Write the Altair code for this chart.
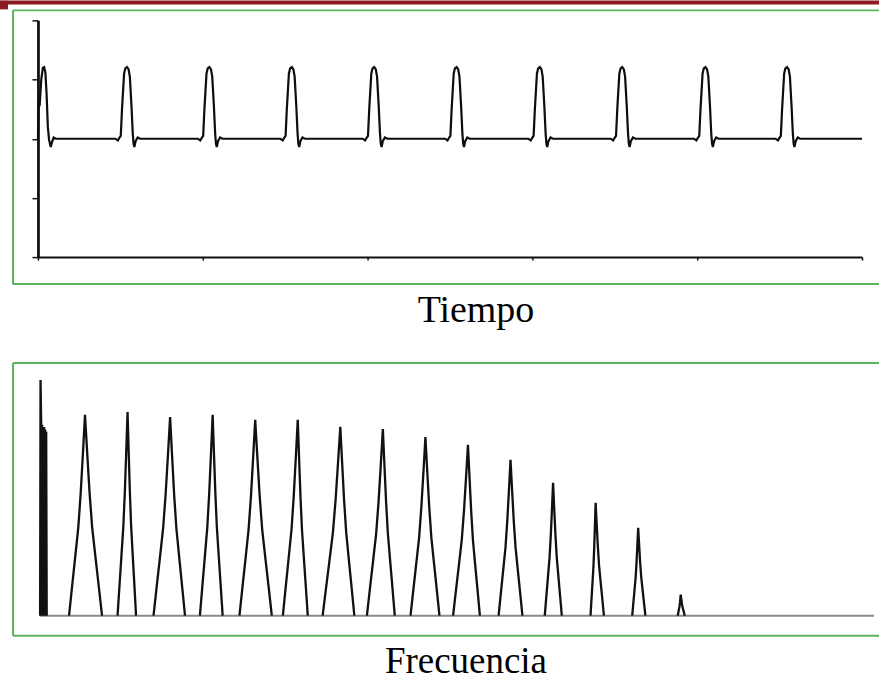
import altair as alt
import pandas as pd

# ---------------- Top panel: time signal (Tiempo) ----------------
time_ticks = [0, 2, 4, 6, 8, 10]
amp_ticks = [-2, -1, 0, 1, 2]

# first pulse (starts right on the vertical axis)
first_t = [0.0, 0.008, 0.02, 0.04, 0.06, 0.075, 0.09, 0.105, 0.12, 0.135, 0.155, 0.17, 0.19, 0.22]
first_v = [0.0, 0.65, 0.55, 1.0, 1.2, 1.21, 1.12, 0.75, 0.2, -0.02, -0.14, -0.06, 0.02, 0.0]

# remaining pulses: centres and the pulse shape
pulse_centers = [1.08, 2.08, 3.08, 4.08, 5.08, 6.09, 7.09, 8.10, 9.09]
pulse_offsets = [-0.14, -0.11, -0.09, -0.075, -0.06, -0.035, -0.02, 0.0, 0.02,
                 0.035, 0.055, 0.07, 0.08, 0.09, 0.105, 0.13, 0.16]
pulse_values = [0.0, -0.03, 0.02, 0.05, 0.5, 1.1, 1.19, 1.21, 1.17,
                1.05, 0.55, 0.1, -0.08, -0.14, -0.04, 0.02, 0.0]
end_t = [10.0]
end_v = [0.0]

# ---------------- Bottom panel: spectrum (Frecuencia) ----------------
dc_f = [-0.055, -0.045, -0.03, -0.02, -0.008, 0.004, 0.016, 0.028, 0.04, 0.052,
        0.064, 0.076, 0.088, 0.1]
dc_v = [0.0, 1.0, 0.82, 0.0, 0.81, 0.0, 0.8, 0.0, 0.8, 0.0,
        0.79, 0.0, 0.78, 0.0]

harm_centers = [1.0, 2.0, 3.0, 4.0, 5.0, 6.0, 7.0, 8.0, 9.0, 10.0, 11.0, 12.0, 13.0, 14.0, 15.0]
harm_heights = [0.852, 0.864, 0.843, 0.852, 0.831, 0.831, 0.801, 0.792, 0.758,
                0.725, 0.661, 0.564, 0.479, 0.373, 0.089]
harm_left = [0.375, 0.235, 0.39, 0.30, 0.37, 0.35, 0.415, 0.375, 0.35,
             0.35, 0.28, 0.195, 0.12, 0.14, 0.07]
harm_right = [0.40, 0.20, 0.35, 0.235, 0.39, 0.235, 0.33, 0.28, 0.33,
              0.28, 0.28, 0.205, 0.195, 0.17, 0.095]
profile_h = [0.0, 0.13, 0.28, 0.44, 0.61, 0.78, 0.94, 1.0]
profile_w = [1.0, 0.83, 0.63, 0.42, 0.27, 0.15, 0.04, 0.0]
baseline_f = [-0.06]
baseline_f2 = [19.54]

# ---------------- tables ----------------
rows = []
for t, v in zip(first_t, first_v):
    rows.append({"t": t, "v": v})
for c in pulse_centers:
    for o, v in zip(pulse_offsets, pulse_values):
        rows.append({"t": round(c + o, 4), "v": v})
for t, v in zip(end_t, end_v):
    rows.append({"t": t, "v": v})
sig_df = pd.DataFrame(rows)

spec_rows = []
for f, v in zip(dc_f, dc_v):
    spec_rows.append({"k": 0, "f": f, "a": v})
for k, (c, h, L, R) in enumerate(zip(harm_centers, harm_heights, harm_left, harm_right), start=1):
    for ph, pw in zip(profile_h, profile_w):
        spec_rows.append({"k": k, "f": c - L * pw, "a": h * ph})
    for ph, pw in zip(profile_h[::-1][1:], profile_w[::-1][1:]):
        spec_rows.append({"k": k, "f": c + R * pw, "a": h * ph})
spec_df = pd.DataFrame(spec_rows)
base_df = pd.DataFrame({"f": baseline_f, "f2": baseline_f2, "a": [0.0]})

one = pd.DataFrame({"z": [0]})

W = 867
H1 = 274
H2 = 273
GREEN = "#5db35d"
RED = "#8e1b22"


def frame(h):
    top = alt.Chart(one).mark_rule(color=GREEN, strokeWidth=2).encode(
        x=alt.value(0), x2=alt.value(W), y=alt.value(0))
    bot = alt.Chart(one).mark_rule(color=GREEN, strokeWidth=2).encode(
        x=alt.value(0), x2=alt.value(W), y=alt.value(h))
    left = alt.Chart(one).mark_rule(color=GREEN, strokeWidth=2).encode(
        x=alt.value(0), y=alt.value(0), y2=alt.value(h))
    return [top, bot, left]


red1 = alt.Chart(one).mark_rect(color=RED).encode(
    x=alt.value(-13), x2=alt.value(-5), y=alt.value(-10), y2=alt.value(-1))
red2 = alt.Chart(one).mark_rect(color=RED).encode(
    x=alt.value(-5), x2=alt.value(W), y=alt.value(-10), y2=alt.value(-6))

xs_t = alt.Scale(domain=[0, 10], range=[25, 850])
ys_t = alt.Scale(domain=[-2, 2], range=[247, 10])

signal = alt.Chart(sig_df).mark_line(color="#0d0d0d", strokeWidth=2.2).encode(
    x=alt.X("t:Q", scale=xs_t,
            axis=alt.Axis(values=time_ticks, labels=False, title=None, grid=False,
                          domainColor="#111111", domainWidth=2, tickColor="#111111",
                          tickSize=3, tickWidth=1.5, offset=-27)),
    y=alt.Y("v:Q", scale=ys_t,
            axis=alt.Axis(values=amp_ticks, labels=False, title=None, grid=False,
                          domainColor="#111111", domainWidth=2.8, tickColor="#111111",
                          tickSize=6, tickWidth=1.5, offset=-25)),
)

top_panel = alt.layer(red1, red2, *frame(H1), signal).properties(
    width=W, height=H1,
    title=alt.TitleParams("Tiempo", orient="bottom", anchor="middle", dx=30, offset=37,
                          font="Liberation Serif", fontSize=38, fontWeight="normal",
                          color="black", baseline="alphabetic"),
)

xs_f = alt.Scale(domain=[0, 20], range=[29.5, 881.5])
ys_f = alt.Scale(domain=[0, 1], range=[253, 17])

baseline = alt.Chart(base_df).mark_rule(color="#8a8a8a", strokeWidth=2).encode(
    x=alt.X("f:Q", scale=xs_f, axis=None),
    x2="f2:Q",
    y=alt.Y("a:Q", scale=ys_f, axis=None),
)
spectrum = alt.Chart(spec_df).mark_line(color="#111111", strokeWidth=2.3).encode(
    x=alt.X("f:Q", scale=xs_f, axis=None),
    y=alt.Y("a:Q", scale=ys_f, axis=None),
    detail="k:N",
)

bottom_panel = alt.layer(*frame(H2), baseline, spectrum).properties(
    width=W, height=H2,
    title=alt.TitleParams("Frecuencia", orient="bottom", anchor="middle", dx=20, offset=36,
                          font="Liberation Serif", fontSize=37, fontWeight="normal",
                          color="black", baseline="alphabetic"),
)

chart = alt.vconcat(top_panel, bottom_panel, spacing=79, bounds="flush").properties(
    padding=0, background="white"
).configure_view(stroke=None)

chart.save("out.html", embed_options={"renderer": "svg", "actions": False})
